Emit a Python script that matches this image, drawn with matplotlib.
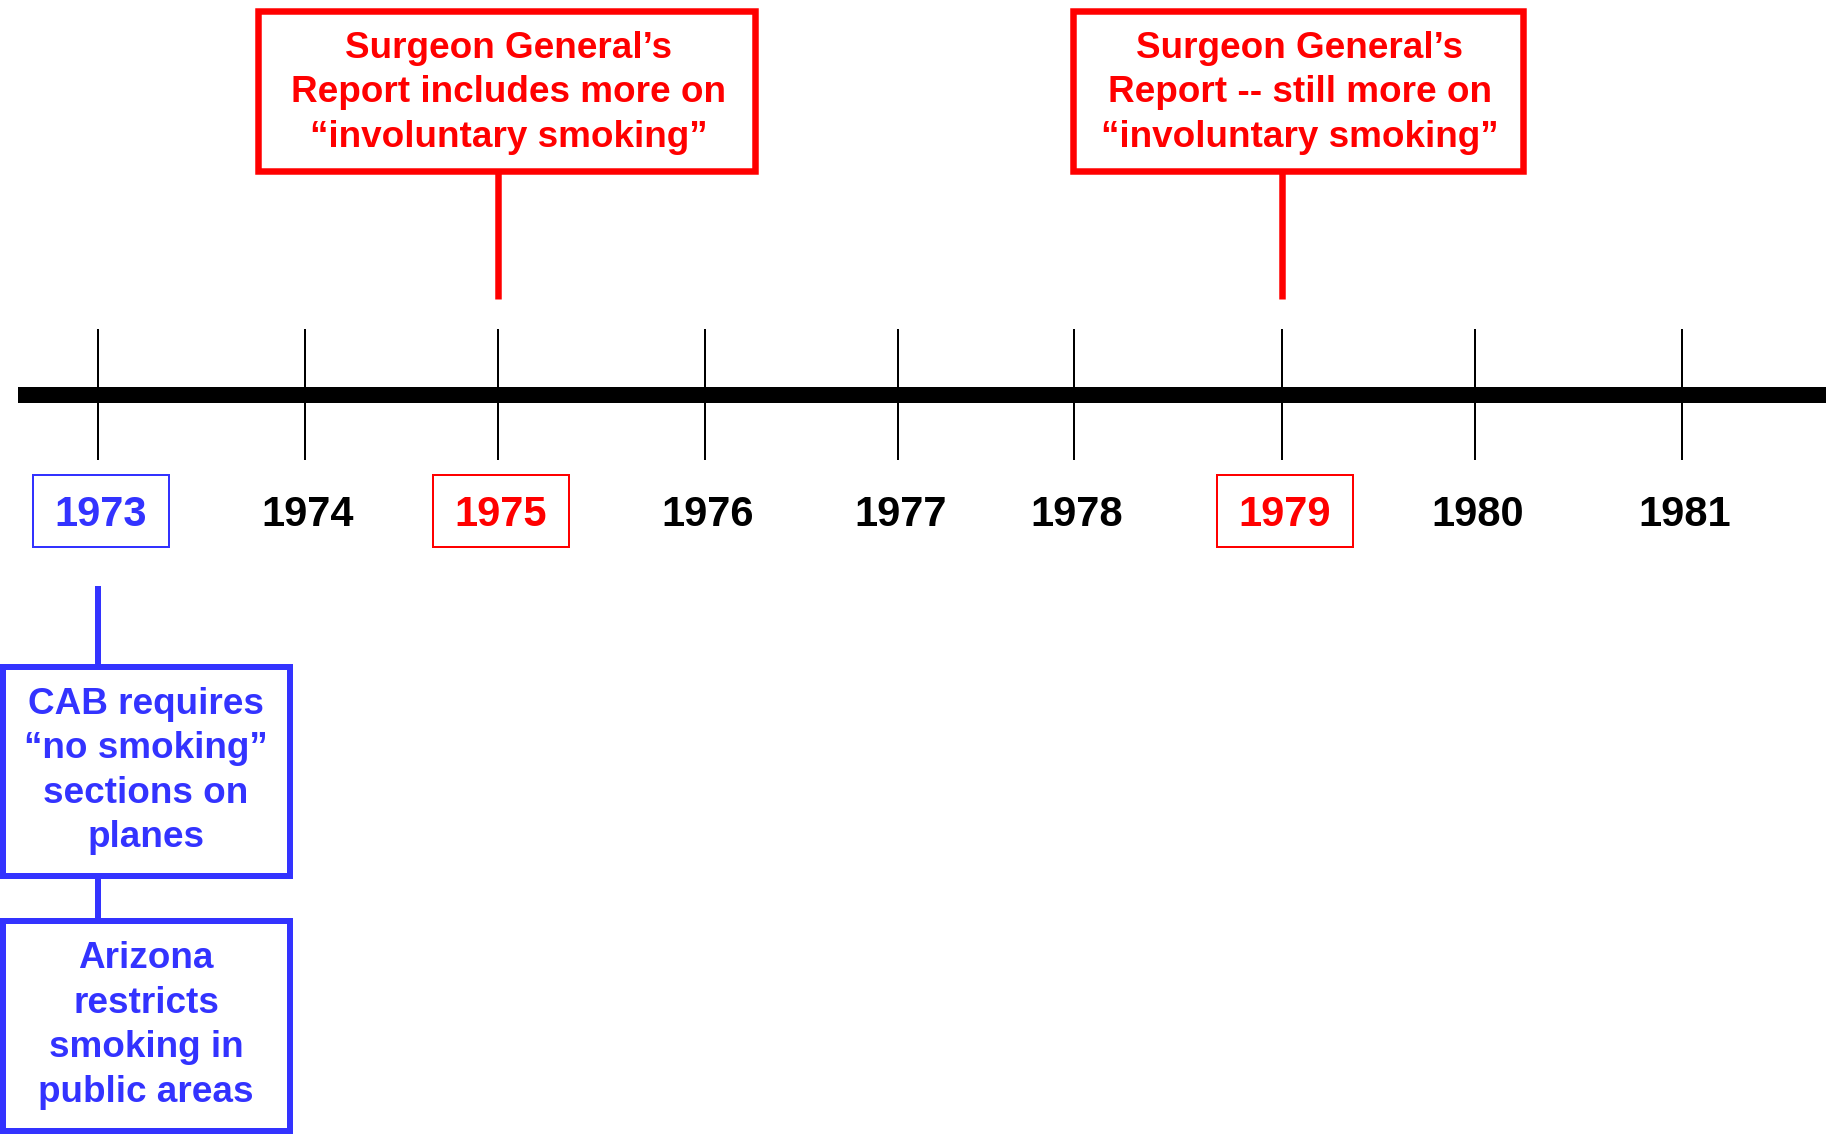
import matplotlib
matplotlib.use("Agg")
import matplotlib.pyplot as plt
from matplotlib.patches import Rectangle
from matplotlib import font_manager as fm

# ---------------- data ----------------
years = [1973, 1974, 1975, 1976, 1977, 1978, 1979, 1980, 1981]
year_pos = [98, 305, 498, 705, 898, 1074, 1282, 1475, 1682]   # position of each year on the timeline
year_colors = ["#3333FF", "black", "#FF0000", "black", "black", "black", "#FF0000", "black", "black"]
year_boxed = [True, False, True, False, False, False, True, False, False]

above_years = [1975, 1979]
above_texts = [
    "Surgeon General\u2019s\nReport includes more on\n\u201cinvoluntary smoking\u201d",
    "Surgeon General\u2019s\nReport -- still more on\n\u201cinvoluntary smoking\u201d",
]
below_year = 1973
below_texts = [
    "CAB requires\n\u201cno smoking\u201d\nsections on\nplanes",
    "Arizona\nrestricts\nsmoking in\npublic areas",
]

RED = "#FF0000"
BLUE = "#3333FF"
W, H = 1828, 1136

# ---------------- fonts ----------------
def has_font(name):
    try:
        fm.findfont(fm.FontProperties(family=name), fallback_to_default=False)
        return True
    except Exception:
        return False

main_family = ["Liberation Sans", "DejaVu Sans"]
if has_font("Liberation Sans Narrow"):
    year_family = ["Liberation Sans Narrow", "Liberation Sans", "DejaVu Sans"]
    year_size = 36
else:
    year_family = main_family
    year_size = 30
plt.rcParams["font.family"] = main_family

fig = plt.figure(figsize=(W / 100, H / 100), dpi=100)
ax = fig.add_axes([0, 0, 1, 1])
ax.set_xlim(0, W)
ax.set_ylim(H, 0)
ax.axis("off")

def px(v):  # pixels -> points
    return v * 72 / 100

pos = dict(zip(years, year_pos))

# timeline
ax.plot([18, 1826], [395, 395], color="black", lw=px(16), solid_capstyle="butt", zorder=2)
for y, x in zip(years, year_pos):
    ax.plot([x, x], [330, 459], color="black", lw=px(2), zorder=1)

# year labels
for y, x, c, boxed in zip(years, year_pos, year_colors, year_boxed):
    ax.text(x + 3, 515.5, str(y), color=c, fontsize=year_size, fontweight="bold",
            family=year_family, ha="center", va="center")
    if boxed:
        ax.add_patch(Rectangle((x - 65, 475), 136, 72, fill=False, edgecolor=c, lw=px(2)))

text_size = 26.6
line_step = 44.6

def multiline(xc, yc, text, color):
    lines = text.split("\n")
    n = len(lines)
    for i, ln in enumerate(lines):
        ax.text(xc, yc + (i - (n - 1) / 2) * line_step, ln, color=color,
                fontsize=text_size, fontweight="bold", ha="center", va="center_baseline")

# above events (red)
above_boxes = [(258, 755), (1073, 1523)]
for yr, txt, (x0, x1) in zip(above_years, above_texts, above_boxes):
    x = pos[yr]
    ax.add_patch(Rectangle((x0, 11), x1 - x0, 160, fill=False, edgecolor=RED, lw=px(6.5), zorder=3))
    ax.plot([x, x], [171, 299], color=RED, lw=px(6.5), solid_capstyle="butt", zorder=2)
    multiline((x0 + x1) / 2 + 2, 89, txt, RED)

# below events (blue)
x = pos[below_year]
ax.plot([x, x], [586, 667], color=BLUE, lw=px(6), solid_capstyle="butt")
ax.plot([x, x], [876, 921], color=BLUE, lw=px(6), solid_capstyle="butt")
below_boxes = [(667, 876), (921, 1131)]
for txt, (y0, y1) in zip(below_texts, below_boxes):
    ax.add_patch(Rectangle((3, y0), 287, y1 - y0, fill=False, edgecolor=BLUE, lw=px(6), zorder=3))
    multiline(146, (y0 + y1) / 2 - 4.5, txt, BLUE)

fig.savefig("out.png", dpi=100, facecolor="white")
